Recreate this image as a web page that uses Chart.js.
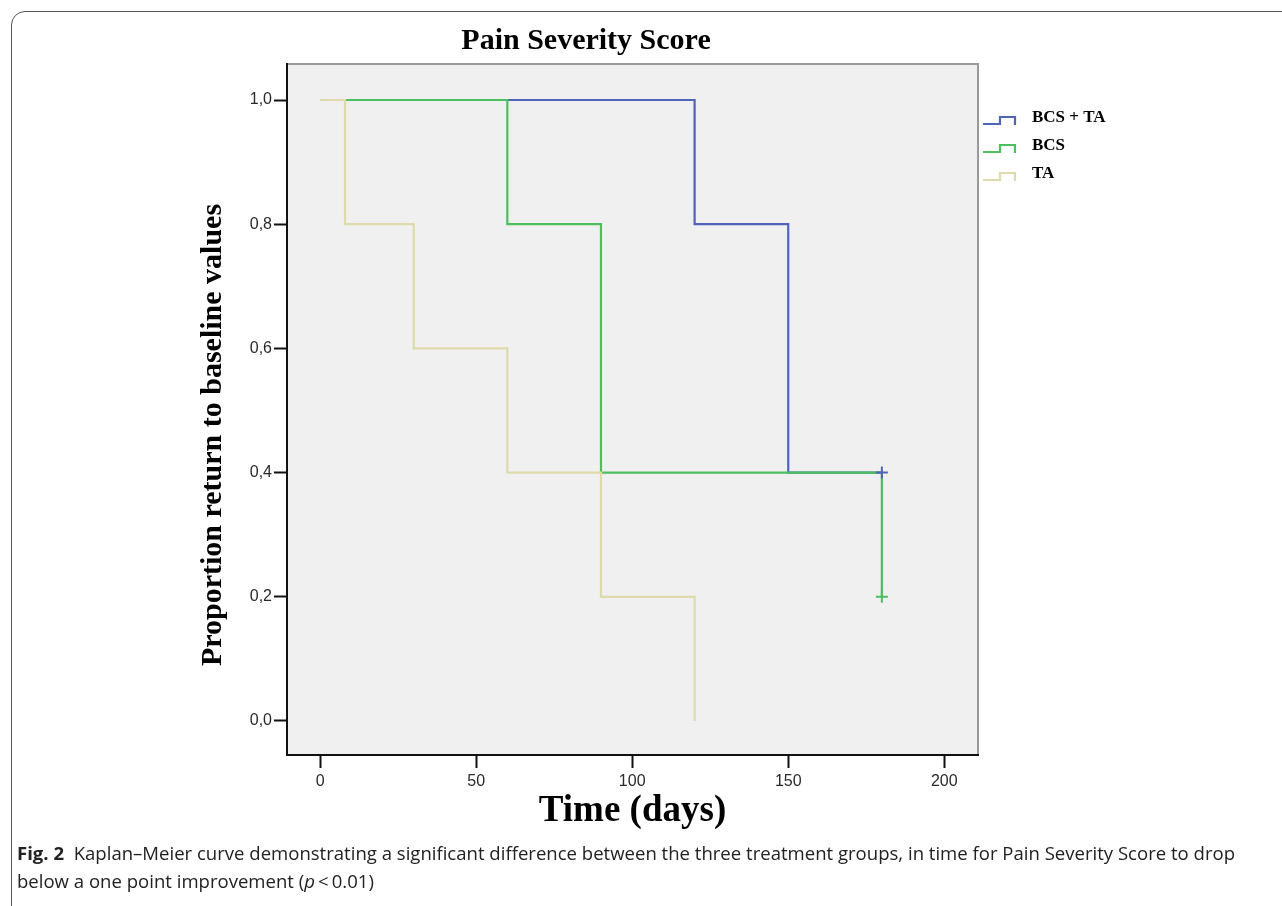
<!DOCTYPE html>
<html><head><meta charset="utf-8">
<script src="https://cdn.jsdelivr.net/npm/chart.js@4.4.0/dist/chart.umd.min.js"></script>
<style>
html,body{margin:0;padding:0;background:#fff;width:1282px;height:906px;overflow:hidden;}
#wrap{position:relative;width:1282px;height:906px;}
#frame{position:absolute;left:11px;top:11px;width:1320px;height:930px;border:1.5px solid #555;border-radius:14px;box-sizing:border-box;}
#c{position:absolute;left:0;top:0;}
.cap{position:absolute;left:17px;font-family:"Open Sans",sans-serif;font-size:18px;color:#222;white-space:nowrap;transform-origin:0 50%;line-height:20px;}
</style></head>
<body><div id="wrap"><div id="frame"></div><canvas id="c" width="1282" height="906"></canvas>
<div class="cap" id="cap1" style="top:843px"><b>Fig. 2</b>&nbsp; Kaplan–Meier curve demonstrating a significant difference between the three treatment groups, in time for Pain Severity Score to drop</div>
<div class="cap" id="cap2" style="top:871px">below a one point improvement (<i>p</i>&thinsp;&lt;&thinsp;0.01)</div>
</div>
<script>
// ---- data ----
const chartTitle = 'Pain Severity Score';
const xTitle = 'Time (days)';
const yTitle = 'Proportion return to baseline values';
const groups = ['BCS + TA', 'BCS', 'TA'];
const timeTicks = [0, 50, 100, 150, 200];
const propTicks = [0, 0.2, 0.4, 0.6, 0.8, 1.0];
const bcsTaTimes = [0, 120, 150, 180];
const bcsTaSurv  = [1.0, 0.8, 0.4, 0.4];
const bcsTimes   = [0, 60, 90, 180];
const bcsSurv    = [1.0, 0.8, 0.4, 0.2];
const taTimes    = [0, 8, 30, 60, 90, 120];
const taSurv     = [1.0, 0.8, 0.6, 0.4, 0.2, 0.0];
const censorBcsTaTimes = [180];
const censorBcsTaSurv  = [0.4];
const censorBcsTimes   = [180];
const censorBcsSurv    = [0.2];
const colors = ['#5064bb', '#4cbf5f', '#dedaab'];

const pts = (t, s) => t.map((v, i) => ({x: v, y: s[i]}));

const curve = (label, t, s, color, order) => ({
  type: 'line', label, data: pts(t, s), borderColor: color, backgroundColor: color,
  borderWidth: 2.2, stepped: 'before', pointRadius: 0, fill: false, order
});
const censor = (label, t, s, color) => ({
  type: 'scatter', label, data: pts(t, s), borderColor: color, backgroundColor: color,
  pointStyle: 'cross', pointRadius: 6, borderWidth: 2, order: 0, isCensor: true
});

const bgPlugin = {
  id: 'bg',
  beforeDraw(chart) {
    const {ctx, chartArea: a} = chart;
    ctx.save();
    ctx.fillStyle = '#f0f0f0';
    ctx.fillRect(a.left, a.top, a.right - a.left, a.bottom - a.top);
    ctx.strokeStyle = '#9a9a9a';
    ctx.lineWidth = 2;
    ctx.beginPath();
    ctx.moveTo(a.left, a.top); ctx.lineTo(a.right, a.top); ctx.lineTo(a.right, a.bottom);
    ctx.stroke();
    ctx.restore();
  },
  afterDraw(chart) {
    const {ctx} = chart;
    ctx.save();
    ctx.fillStyle = '#000';
    ctx.font = 'bold 30px "Liberation Serif"';
    ctx.textAlign = 'center';
    ctx.textBaseline = 'middle';
    ctx.fillText(chartTitle, 586, 41);
    // y axis title
    ctx.save();
    ctx.translate(213, 435);
    ctx.rotate(-Math.PI / 2);
    ctx.font = 'bold 30px "Liberation Serif"';
    ctx.fillText(yTitle, 0, 0);
    ctx.restore();
    // legend
    const lineSets = chart.data.datasets.filter(d => !d.isCensor);
    lineSets.forEach((d, i) => {
      const yc = 118 + i * 28;
      ctx.strokeStyle = d.borderColor;
      ctx.lineWidth = 2.2;
      ctx.beginPath();
      ctx.moveTo(983, yc + 6); ctx.lineTo(1000, yc + 6); ctx.lineTo(1000, yc - 1);
      ctx.lineTo(1015, yc - 1); ctx.lineTo(1015, yc + 7);
      ctx.stroke();
      ctx.fillStyle = '#000';
      ctx.font = 'bold 17px "Liberation Serif"';
      ctx.textAlign = 'left';
      ctx.fillText(d.label, 1032, yc);
    });
    ctx.restore();
  }
};

new Chart(document.getElementById('c'), {
  data: {
    datasets: [
      curve(groups[0], bcsTaTimes, bcsTaSurv, colors[0], 3),
      curve(groups[1], bcsTimes, bcsSurv, colors[1], 2),
      curve(groups[2], taTimes, taSurv, colors[2], 1),
      censor(groups[0] + ' censored', censorBcsTaTimes, censorBcsTaSurv, colors[0]),
      censor(groups[1] + ' censored', censorBcsTimes, censorBcsSurv, colors[1])
    ]
  },
  options: {
    responsive: false, animation: false,
    layout: {padding: {left: 0, top: 64, right: 304, bottom: 0}},
    plugins: {legend: {display: false}, tooltip: {enabled: false}},
    scales: {
      x: {
        type: 'linear', min: -10.6, max: 210.8,
        afterBuildTicks: s => { s.ticks = timeTicks.map(v => ({value: v})); },
        afterFit: s => { s.height = 151; },
        grid: {drawOnChartArea: false, drawTicks: true, tickLength: 13, tickColor: '#111', tickWidth: 2},
        border: {display: true, color: '#111', width: 2},
        ticks: {autoSkip: false, maxRotation: 0, padding: 4, color: '#2a2a2a',
                font: {family: '"Liberation Sans"', size: 16}},
        title: {display: true, text: xTitle, color: '#000',
                font: {family: '"Liberation Serif"', size: 37, weight: 'bold'},
                padding: {top: 0, bottom: 72}}
      },
      y: {
        type: 'linear', min: -0.0548, max: 1.058,
        afterBuildTicks: s => { s.ticks = propTicks.map(v => ({value: v})); },
        afterFit: s => { s.width = 287; },
        grid: {drawOnChartArea: false, drawTicks: true, tickLength: 13, tickColor: '#111', tickWidth: 2},
        border: {display: true, color: '#111', width: 2},
        ticks: {padding: 2, color: '#2a2a2a', font: {family: '"Liberation Sans"', size: 16},
                callback: v => v.toFixed(1).replace('.', ',')},
        title: {display: false}
      }
    }
  },
  plugins: [bgPlugin]
});

// fit caption line 1 to reference width
const c1 = document.getElementById('cap1');
const w = c1.getBoundingClientRect().width;
const sc = 1218 / w;
c1.style.transform = 'scaleX(' + sc + ')';
document.getElementById('cap2').style.transform = 'scaleX(' + sc + ')';
</script>
</body></html>
